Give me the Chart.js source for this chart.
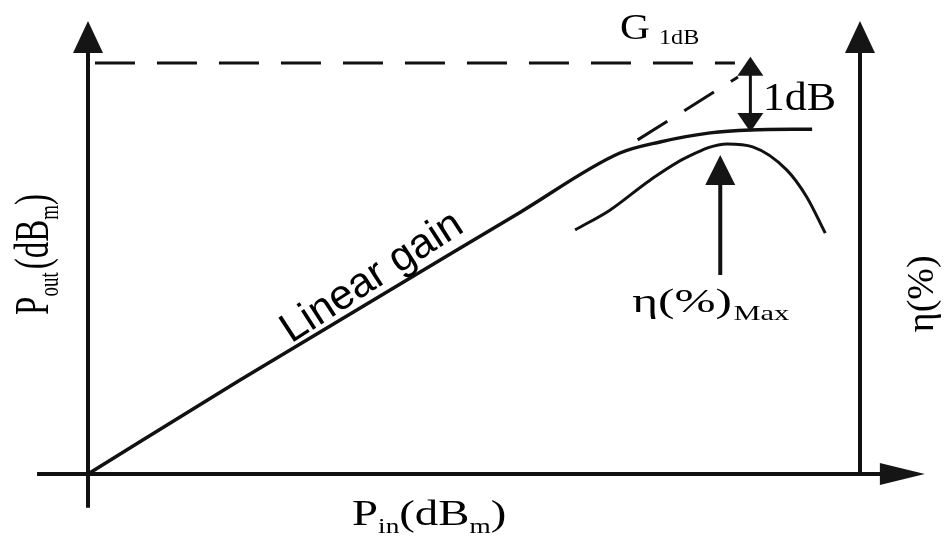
<!DOCTYPE html>
<html>
<head>
<meta charset="utf-8">
<script src="https://cdn.jsdelivr.net/npm/chart.js@4/dist/chart.umd.min.js"></script>
<style>
  html, body { margin: 0; padding: 0; background: #fff; }
  #wrap { width: 947px; height: 542px; }
</style>
</head>
<body>
<div id="wrap"><canvas id="chart" width="947" height="542"></canvas></div>
<script>
// schematic units: P_in on x, P_out / efficiency on y
const poutX = [0, 1.97, 5.60, 6.89, 7.41, 8.06, 8.58, 9.38];
const poutY = [0, 2.29, 6.37, 7.81, 8.08, 8.30, 8.37, 8.39];

const effX = [6.31, 6.76, 7.28, 7.76, 8.28, 8.61, 9.05, 9.31, 9.55];
const effY = [5.94, 6.42, 7.15, 7.71, 8.03, 7.96, 7.40, 6.74, 5.86];

// extrapolated linear gain and the G1dB level
const extX = [7.12, 8.42];
const extY = [8.13, 9.66];
const g1dbX = [0.09, 8.38];
const g1dbY = [10, 10];

// axes
const leftAxisX = [0, 0];
const leftAxisY = [-0.82, 10.4];
const bottomAxisX = [-0.66, 10.4];
const bottomAxisY = [0, 0];
const rightAxisX = [10, 10];
const rightAxisY = [0, 10.4];

// 1dB double arrow and eta max arrow shafts
const dbShaftX = [8.58, 8.58];
const dbShaftY = [9.75, 8.70];
const etaShaftX = [8.19, 8.19];
const etaShaftY = [7.10, 4.84];

// arrow tips [x, y, direction]
const arrowTips = [
  [0, 11.02, 'up'], [10, 11.02, 'up'], [10.84, 0, 'right'],
  [8.58, 10.15, 'up'], [8.58, 8.32, 'down'], [8.19, 7.76, 'up']
];

const pts = (xs, ys) => xs.map((v, i) => ({x: v, y: ys[i]}));

function line(xs, ys, width, dash, smooth) {
  return {
    data: pts(xs, ys),
    showLine: true,
    borderColor: '#111',
    borderWidth: width,
    borderDash: dash || [],
    pointRadius: 0,
    cubicInterpolationMode: smooth ? 'monotone' : 'default',
    fill: false
  };
}

// draws text pieces (with subscripts) from a baseline point, optionally rotated / stretched
function rich(ctx, x, y, parts, o) {
  o = o || {};
  ctx.save();
  ctx.translate(x, y);
  if (o.rot) ctx.rotate(o.rot);
  ctx.scale(o.hs || 1, o.vs || 1);
  let cx = 0;
  parts.forEach(p => {
    ctx.font = p.size + 'px "Liberation Serif", "Times New Roman", serif';
    ctx.fillText(p.t, cx, p.dy || 0);
    cx += ctx.measureText(p.t).width + (p.gap || 0);
  });
  ctx.restore();
}

const overlay = {
  id: 'overlay',
  afterDatasetsDraw(chart) {
    const ctx = chart.ctx;
    const sx = chart.scales.x, sy = chart.scales.y;
    const px = v => sx.getPixelForValue(v);
    const py = v => sy.getPixelForValue(v);
    ctx.save();
    ctx.fillStyle = '#151515';

    // arrow heads
    arrowTips.forEach(([ax, ay, dir], i) => {
      const tx = px(ax), ty = py(ay);
      let len = 32, half = 15;
      if (dir === 'right') { len = 45; half = 11; }
      if (i === 3 || i === 4) { len = 19; half = 13; }
      if (i === 5) { len = 30; half = 15; }
      ctx.beginPath();
      if (dir === 'up') {
        ctx.moveTo(tx, ty); ctx.lineTo(tx - half, ty + len); ctx.lineTo(tx + half, ty + len);
      } else if (dir === 'down') {
        ctx.moveTo(tx, ty); ctx.lineTo(tx - half, ty - len); ctx.lineTo(tx + half, ty - len);
      } else {
        ctx.moveTo(tx, ty); ctx.lineTo(tx - len, ty - half); ctx.lineTo(tx - len, ty + half);
      }
      ctx.closePath();
      ctx.fill();
    });

    ctx.fillStyle = '#000';
    ctx.textBaseline = 'alphabetic';

    // Linear gain along the line
    ctx.save();
    ctx.translate(px(3.68), py(4.78));
    ctx.rotate(-33 * Math.PI / 180);
    ctx.font = '42px "Liberation Sans", Arial, sans-serif';
    ctx.textAlign = 'center';
    ctx.textBaseline = 'middle';
    ctx.fillText('Linear gain', 0, 0);
    ctx.restore();

    // G1dB
    rich(ctx, px(6.89), py(10.58), [{t: 'G', size: 36, gap: 8}, {t: '1dB', size: 21, dy: 5}], {hs: 1.15});
    // 1dB
    rich(ctx, px(8.74), py(8.86), [{t: '1dB', size: 40}], {hs: 1.1});
    // eta max
    rich(ctx, px(7.05), py(3.94), [{t: 'η(%)', size: 34, gap: 1}, {t: 'Max', size: 21, dy: 8}], {hs: 1.45});
    // P_in
    rich(ctx, px(3.42), py(-1.24), [
      {t: 'P', size: 36}, {t: 'in', size: 21, dy: 8}, {t: '(dB', size: 36},
      {t: 'm', size: 21, dy: 8}, {t: ')', size: 36}
    ], {hs: 1.3});
    // P_out (rotated)
    rich(ctx, px(-0.52), py(3.87), [
      {t: 'P', size: 33}, {t: 'out', size: 19, dy: 7, gap: 3}, {t: '(dB', size: 33},
      {t: 'm', size: 19, dy: 7}, {t: ')', size: 33}
    ], {rot: -Math.PI / 2, vs: 1.45});
    // eta (%) right axis label
    rich(ctx, px(10.95), py(3.45), [{t: 'η(%)', size: 38}], {rot: -Math.PI / 2});

    ctx.restore();
  }
};

new Chart(document.getElementById('chart'), {
  type: 'scatter',
  data: {
    datasets: [
      line(leftAxisX, leftAxisY, 4),
      line(bottomAxisX, bottomAxisY, 4),
      line(rightAxisX, rightAxisY, 4),
      line(g1dbX, g1dbY, 3, [40, 22]),
      line(extX, extY, 3, [35, 20]),
      line(poutX, poutY, 3.5, null, true),
      line(effX, effY, 3, null, true),
      line(dbShaftX, dbShaftY, 3),
      line(etaShaftX, etaShaftY, 4)
    ]
  },
  options: {
    responsive: false,
    animation: false,
    layout: { padding: 0 },
    plugins: { legend: { display: false }, tooltip: { enabled: false } },
    scales: {
      x: { type: 'linear', display: false, min: -1.14, max: 11.127 },
      y: { type: 'linear', display: false, min: -1.654, max: 11.533 }
    }
  },
  plugins: [overlay]
});
</script>
</body>
</html>
